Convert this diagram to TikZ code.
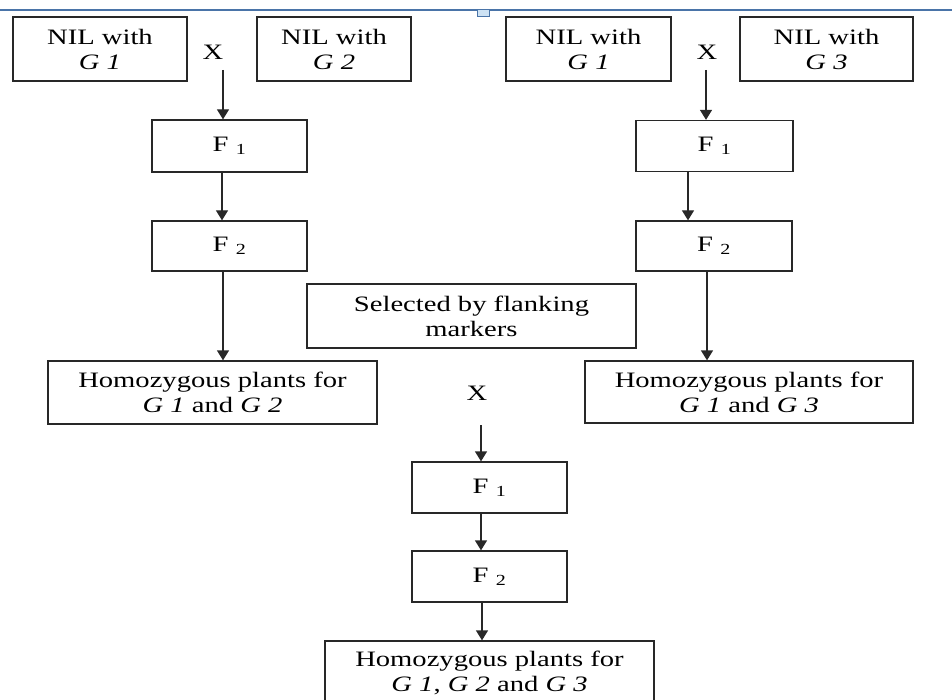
\documentclass[tikz,border=0pt]{standalone}
\usepackage{fontspec}
\newfontfamily\dfont{Liberation Serif}[FakeStretch=1.3]
\usetikzlibrary{arrows.meta}
\definecolor{rulerblue}{RGB}{74,116,168}
\definecolor{handlefill}{RGB}{205,226,244}
\definecolor{edge}{RGB}{40,40,40}
\begin{document}
\begin{tikzpicture}[x=1pt,y=-1pt,
  txt/.style={font=\dfont\fontsize{22}{25}\selectfont},
  box/.style={txt, draw=edge, line width=1.3pt, rectangle, inner sep=0pt, align=center},
  wide/.style={box, minimum width=329pt, minimum height=63pt},
  nil/.style={box, minimum height=64pt},
  gen/.style={box, minimum width=155pt, minimum height=51pt},
  cross/.style={txt, inner sep=0pt},
  flow/.style={draw=edge, line width=1.3pt, -{Triangle[width=12pt,length=10pt]}}]
\useasboundingbox (0,0) rectangle (952,700);
\clip (0,0) rectangle (952,700);

% top ruler line with its handle
\draw[rulerblue, line width=1.6pt] (0,10) -- (952,10);
\draw[rulerblue, fill=handlefill, line width=0.8pt] (477,9) rectangle (489,16);

% parental lines
\node[nil, minimum width=174pt] (nilA) at (100,49) {NIL with\\ \textit{G 1}};
\node[nil, minimum width=154pt] (nilB) at (334,49) {NIL with\\ \textit{G 2}};
\node[nil, minimum width=165pt] (nilC) at (588.5,49) {NIL with\\ \textit{G 1}};
\node[nil, minimum width=173pt] (nilD) at (826.5,49) {NIL with\\ \textit{G 3}};
\node[cross] (xL) at (213,52) {X};
\node[cross] (xR) at (707,52) {X};

% left cross
\node[gen, minimum height=52pt] (f1L) at (229.5,146) {F\ \textsubscript{1}};
\node[gen, minimum height=50pt] (f2L) at (229.5,246) {F\ \textsubscript{2}};
\node[wide] (homL) at (212.5,392.5) {Homozygous plants for\\ \textit{G 1} and \textit{G 2}};

% right cross
\node[gen, minimum width=157pt] (f1R) at (714.5,146) {F\ \textsubscript{1}};
\node[gen, minimum width=156pt, minimum height=50pt] (f2R) at (714,246) {F\ \textsubscript{2}};
\node[wide, minimum width=328pt, minimum height=62pt] (homR) at (749,392) {Homozygous plants for\\ \textit{G 1} and \textit{G 3}};

% selection and final cross
\node[wide, minimum height=64pt] (sel) at (471.5,316) {Selected by flanking\\ markers};
\node[cross] (xB) at (477,393) {X};
\node[gen] (f1B) at (489.5,487.5) {F\ \textsubscript{1}};
\node[gen] (f2B) at (489.5,576.5) {F\ \textsubscript{2}};
\node[wide, minimum height=63pt] (homB) at (489.5,672.5) {Homozygous plants for\\ \textit{G 1}, \textit{G 2} and \textit{G 3}};

% connectors
\coordinate (sL) at (223,70);
\coordinate (sR) at (706,70);
\coordinate (sB) at (481,425);
\draw[flow] (sL) -- (sL |- f1L.north);
\draw[flow] (f1L.south -| 222,0) -- (f2L.north -| 222,0);
\draw[flow] (f2L.south -| 223,0) -- (homL.north -| 223,0);
\draw[flow] (sR) -- (sR |- f1R.north);
\draw[flow] (f1R.south -| 688,0) -- (f2R.north -| 688,0);
\draw[flow] (f2R.south -| 707,0) -- (homR.north -| 707,0);
\draw[flow] (sB) -- (sB |- f1B.north);
\draw[flow] (f1B.south -| 481,0) -- (f2B.north -| 481,0);
\draw[flow] (f2B.south -| 482,0) -- (homB.north -| 482,0);
\end{tikzpicture}
\end{document}
